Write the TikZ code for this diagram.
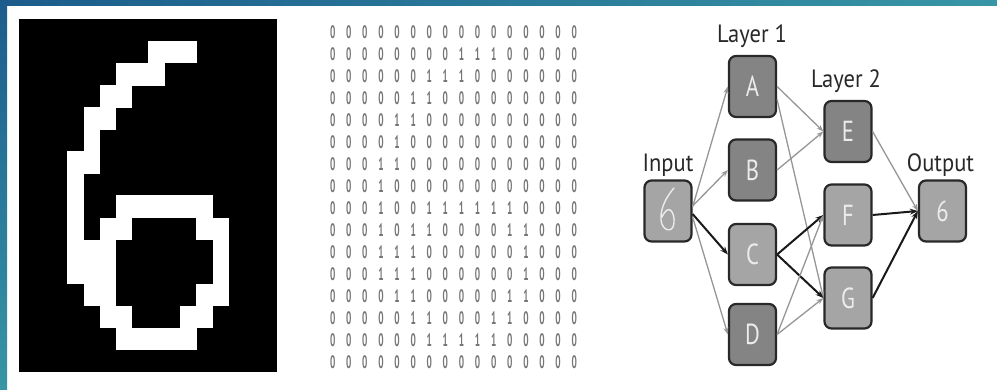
\documentclass[tikz,border=0pt]{standalone}
\usepackage{fontspec}
\setmainfont{PT Sans}
\usepackage{graphicx}
\usetikzlibrary{arrows.meta,calc}
\definecolor{bgblue}{RGB}{28,92,140}
\definecolor{bgteal}{RGB}{55,150,165}
\definecolor{nodedark}{RGB}{132,132,132}
\definecolor{nodelight}{RGB}{165,165,165}
\definecolor{nodeborder}{RGB}{40,40,40}
\definecolor{digitgray}{RGB}{118,118,118}
\definecolor{edgegray}{RGB}{150,150,150}
\definecolor{edgeblack}{RGB}{25,25,25}
\definecolor{labelcol}{RGB}{40,40,40}
\definecolor{lettercol}{RGB}{236,236,236}
\newcommand\narrowtxt[1]{\scalebox{0.78}[1]{#1}}
\begin{document}
\begin{tikzpicture}[x=1pt,y=-1pt,
  unit/.style={draw=nodeborder,line width=2.2pt,rounded corners=7pt,minimum width=47pt,minimum height=61pt,inner sep=0pt,text=lettercol,font=\fontsize{29}{29}\selectfont},
  darkunit/.style={unit,fill=nodedark},
  lightunit/.style={unit,fill=nodelight},
  layerlabel/.style={text=labelcol,font=\fontsize{25}{25}\selectfont,anchor=base,inner sep=0pt},
  digit/.style={text=digitgray,font=\fontsize{18}{18}\selectfont\bfseries,inner sep=0pt},
  weak/.style={draw=edgegray,line width=1.3pt,-{Stealth[length=7pt,width=5pt]}},
  strong/.style={draw=edgeblack,line width=2pt,-{Stealth[length=8pt,width=6pt]}},
  sixstroke/.style={draw=lettercol,line width=1.4pt,line cap=round}
]
\useasboundingbox (0,0) rectangle (997,390);
\fill[white] (0,0) rectangle (997,390);
\shade[left color=bgblue,right color=bgteal] (0,0) rectangle (997,6);
\shade[top color=bgblue,bottom color=bgteal] (0,0) rectangle (7,390);

% pixel image
\fill[black] (19,19) rectangle (277,372);
\foreach \row [count=\j from 0] in {
{0,0,0,0,0,0,0,0,0,0,0,0,0,0,0,0},
{0,0,0,0,0,0,0,0,1,1,1,0,0,0,0,0},
{0,0,0,0,0,0,1,1,1,0,0,0,0,0,0,0},
{0,0,0,0,0,1,1,0,0,0,0,0,0,0,0,0},
{0,0,0,0,1,1,0,0,0,0,0,0,0,0,0,0},
{0,0,0,0,1,0,0,0,0,0,0,0,0,0,0,0},
{0,0,0,1,1,0,0,0,0,0,0,0,0,0,0,0},
{0,0,0,1,0,0,0,0,0,0,0,0,0,0,0,0},
{0,0,0,1,0,0,1,1,1,1,1,1,0,0,0,0},
{0,0,0,1,0,1,1,0,0,0,0,1,1,0,0,0},
{0,0,0,1,1,1,0,0,0,0,0,0,1,0,0,0},
{0,0,0,1,1,1,0,0,0,0,0,0,1,0,0,0},
{0,0,0,0,1,1,0,0,0,0,0,1,1,0,0,0},
{0,0,0,0,0,1,1,0,0,0,1,1,0,0,0,0},
{0,0,0,0,0,0,1,1,1,1,1,0,0,0,0,0},
{0,0,0,0,0,0,0,0,0,0,0,0,0,0,0,0}}{
  \foreach \v [count=\i from 0] in \row {
    \ifnum\v=1 \fill[white] (19+\i*16.125,19+\j*22.06) rectangle ++(16.5,22.4);\fi
    \node[digit] (m-\i-\j) at (332.7+\i*16.1,32+\j*22) {\scalebox{0.52}[1]{\v}};
  }
}

% network nodes
\node[lightunit] (in) at (668,211) {};
\node[darkunit] (A) at (752.5,86.5) {\narrowtxt{A}};
\node[darkunit] (B) at (752.5,170) {\narrowtxt{B}};
\node[lightunit] (C) at (752.5,254.5) {\narrowtxt{C}};
\node[darkunit] (D) at (752.5,334.5) {\narrowtxt{D}};
\node[darkunit] (E) at (848,131.5) {\narrowtxt{E}};
\node[lightunit] (F) at (848,215) {\narrowtxt{F}};
\node[lightunit] (G) at (848,298) {\narrowtxt{G}};
\node[lightunit] (out) at (942.5,211) {\narrowtxt{6}};

% handwritten six
\draw[sixstroke] ([shift={(6,-23)}]in.center) .. controls ([shift={(-1,-15)}]in.center) and ([shift={(-8,-3)}]in.center) .. ([shift={(-7,9)}]in.center)
  .. controls ([shift={(-6,20)}]in.center) and ([shift={(5,23)}]in.center) .. ([shift={(6,12)}]in.center)
  .. controls ([shift={(7,2)}]in.center) and ([shift={(1,-9)}]in.center) .. ([shift={(-6,6)}]in.center);

% labels
\node[layerlabel] (l1) at (752,43) {\scalebox{0.9}[1]{Layer 1}};
\node[layerlabel] (l2) at (846,88) {\scalebox{0.9}[1]{Layer 2}};
\node[layerlabel] (lin) at (668,172) {\scalebox{0.9}[1]{Input}};
\node[layerlabel] (lout) at (940.5,172) {\scalebox{0.9}[1]{Output}};

% edges
\draw[weak] ([yshift=4pt]in.east) -- (A.west);
\draw[weak] ([yshift=5pt]in.east) -- (B.west);
\draw[strong] ([yshift=-3pt]in.east) -- (C.west);
\draw[weak] ([yshift=-6pt]in.east) -- (D.west);
\draw[weak] (A.east) -- (E.west);
\draw[weak] ([yshift=-13pt]A.east) -- (G.west);
\draw[weak] (B.east) -- (E.west);
\draw[strong] (C.east) -- (F.west);
\draw[strong] (C.east) -- (G.west);
\draw[weak] (D.east) -- (F.west);
\draw[weak] (D.east) -- (G.west);
\draw[weak] (E.east) -- (out.west);
\draw[strong] (F.east) -- (out.west);
\draw[strong] (G.east) -- (out.west);
\end{tikzpicture}
\end{document}
